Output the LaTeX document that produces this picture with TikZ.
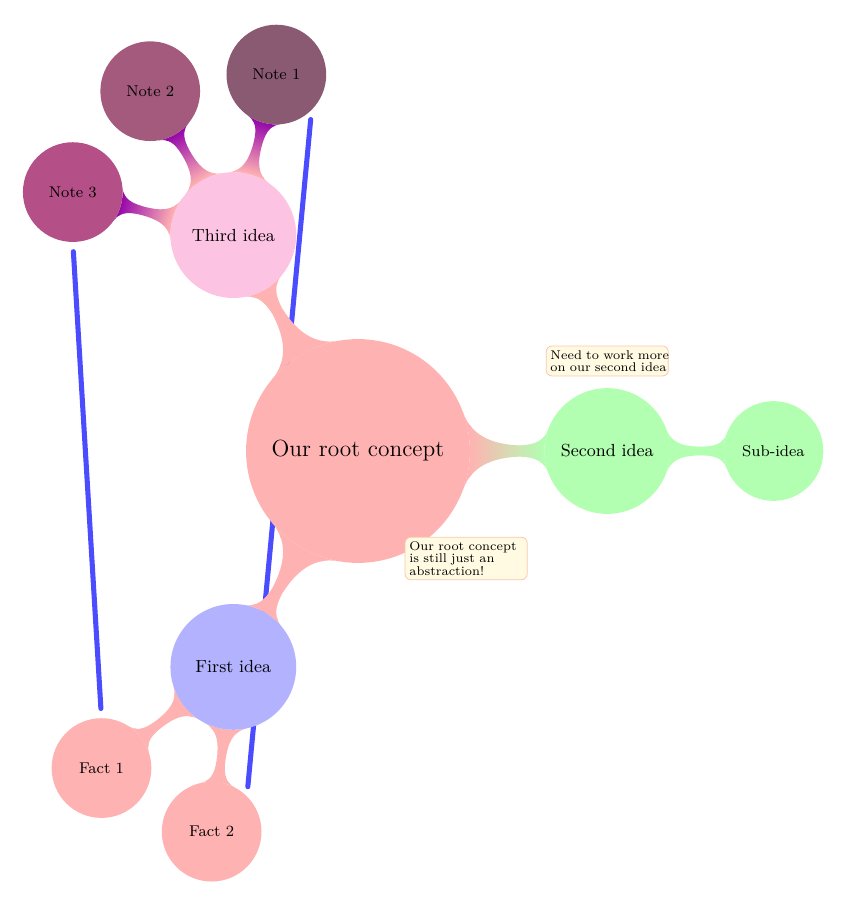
\RequirePackage{fix-cm}
\documentclass[tikz,border=0pt]{standalone}
\usetikzlibrary{mindmap,positioning}

\definecolor{notebar}{RGB}{150,10,170}
\definecolor{noteA}{RGB}{138,90,115}
\definecolor{noteB}{RGB}{163,90,125}
\definecolor{noteC}{RGB}{180,80,135}
\definecolor{thirdfill}{RGB}{253,195,226}
\definecolor{remarkbg}{RGB}{255,250,225}
\definecolor{remarkline}{RGB}{248,200,170}

\pgfdeclarelayer{lines}
\pgfdeclarelayer{bars}
\pgfsetlayers{lines,bars,main}

\tikzset{
  rootidea/.style={concept,draw=none,minimum size=4.04cm,text width=3.5cm,font=\large},
  idea/.style={concept,draw=none,minimum size=2.27cm,text width=2cm,font=\small},
  detail/.style={concept,draw=none,minimum size=1.8cm,text width=1.5cm,font=\footnotesize},
  linkbar/.style args={#1 to #2}{circle connection bar switch color=from (#1) to (#2)},
  remark/.style={rectangle,draw=remarkline,fill=remarkbg,rounded corners=3pt,thin,
    minimum size=0pt,text width=2.05cm,inner sep=2.2pt,align=left,
    font=\fontsize{6.5}{6.4}\selectfont},
  tie/.style={draw=blue!70,line width=2.6pt,line cap=round,shorten <=5pt,shorten >=5pt}
}

\begin{document}
\begin{tikzpicture}[mindmap,text=black]
\useasboundingbox (-6.462,-8.159) rectangle (9.061,8.141);
% concepts
\node[rootidea,fill=red!30] (root) at (0,0) {Our root concept};
\node[idea,fill=green!30] (second) at (0:4.5) {Second idea};
\node[idea,fill=thirdfill] (third) at (120:4.5) {Third idea};
\node[idea,fill=blue!30] (first) at (240:4.5) {First idea};
\node[detail,fill=green!30] (sub) at ([shift={(0:3)}]second.center) {Sub-idea};
\node[detail,fill=noteA] (note1) at ([shift={(75:3)}]third.center) {Note 1};
\node[detail,fill=noteB] (note2) at ([shift={(120:3)}]third.center) {Note 2};
\node[detail,fill=noteC] (note3) at ([shift={(165:3)}]third.center) {Note 3};
\node[detail,fill=red!30] (fact1) at ([shift={(217.5:3)}]first.center) {Fact 1};
\node[detail,fill=red!30] (fact2) at ([shift={(262.5:3)}]first.center) {Fact 2};
% annotations
\node[remark,above=0.22cm of second] (secondnote) {\mbox{Need to work more}\\\mbox{on our second idea}};
\node[remark,right=0.85cm of root.south,yshift=0.08cm] (rootnote) {\mbox{Our root concept}\\\mbox{is still just an}\\abstraction!};
% connection bars
\begin{pgfonlayer}{bars}
\path (root) to[linkbar=red!30 to green!30] (second);
\path (root) to[linkbar=red!30 to red!30] (third);
\path (root) to[linkbar=red!30 to red!30] (first);
\path (second) to[linkbar=green!30 to green!30] (sub);
\path (third) to[linkbar=red!30 to notebar] (note1);
\path (third) to[linkbar=red!30 to notebar] (note2);
\path (third) to[linkbar=red!30 to notebar] (note3);
\path (first) to[linkbar=red!30 to red!30] (fact1);
\path (first) to[linkbar=red!30 to red!30] (fact2);
\end{pgfonlayer}
% blue lines behind
\begin{pgfonlayer}{lines}
\draw[tie] (note3.south) -- (fact1.north);
\draw[tie] (note1.south east) -- (fact2.north east);
\end{pgfonlayer}
\end{tikzpicture}
\end{document}
